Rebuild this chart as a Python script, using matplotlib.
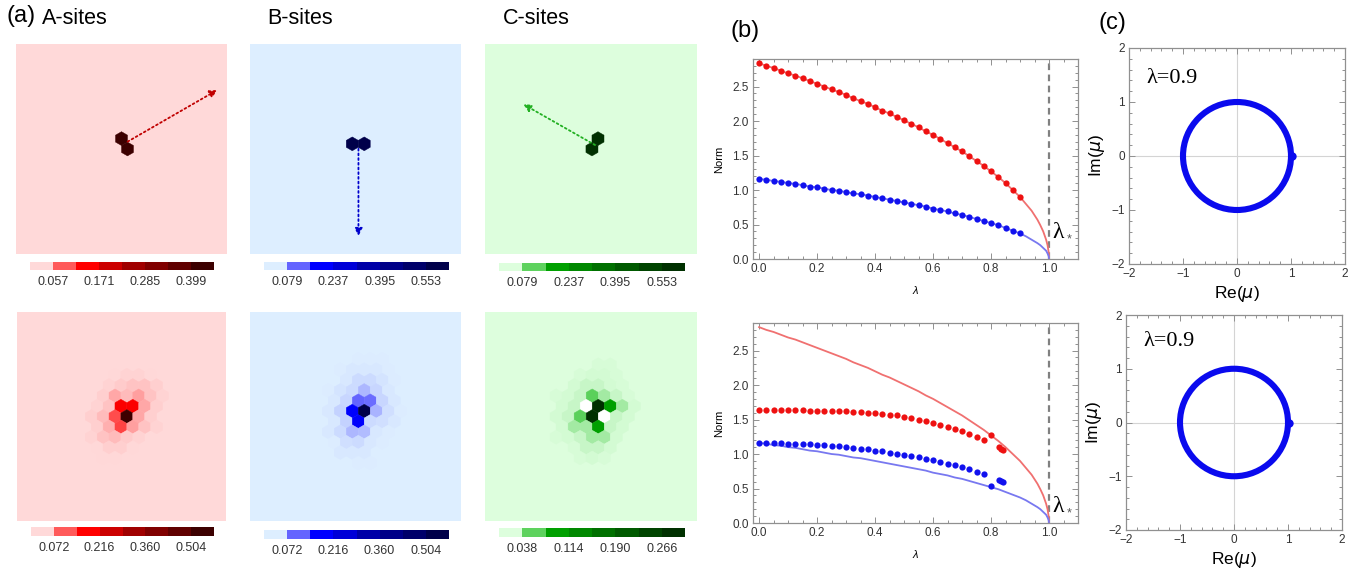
import numpy as np
import matplotlib
matplotlib.use("Agg")
import matplotlib.pyplot as plt
from matplotlib.patches import RegularPolygon, Circle
from matplotlib.collections import PatchCollection
from matplotlib.colors import LinearSegmentedColormap, ListedColormap, BoundaryNorm, Normalize
from matplotlib.cm import ScalarMappable
from matplotlib.ticker import MultipleLocator

plt.rcParams['font.family'] = ['Liberation Sans', 'DejaVu Sans']

# ---------------- data ----------------
# hex-lattice amplitudes, rows top->bottom, centre cell = [rows//2, cols//2]
a_top = [[0.44, 0, 0],
         [0, 0.44, 0],
         [0, 0, 0]]
b_top = [[0, 0, 0],
         [0, 0.62, 0.62],
         [0, 0, 0]]
c_top = [[0, 0.62, 0],
         [0, 0.62, 0],
         [0, 0, 0]]

a_bot = [[0, 0, 0, 0, 0, 0, 0, 0, 0],
         [0, 0, 0, 0.004, 0.005, 0.005, 0.004, 0, 0],
         [0, 0, 0.005, 0.01, 0.014, 0.014, 0.007, 0, 0],
         [0, 0, 0.007, 0.03, 0.018, 0.034, 0.014, 0.005, 0],
         [0, 0.005, 0.014, 0.15, 0.15, 0.03, 0.008, 0, 0],
         [0, 0.007, 0.018, 0.085, 0.55, 0.03, 0.008, 0, 0],
         [0, 0.007, 0.026, 0.09, 0.034, 0.014, 0.005, 0, 0],
         [0, 0.005, 0.014, 0.018, 0.01, 0.005, 0, 0, 0],
         [0, 0.004, 0.008, 0.008, 0.004, 0, 0, 0, 0],
         [0, 0, 0.004, 0.004, 0, 0, 0, 0, 0],
         [0, 0, 0, 0, 0, 0, 0, 0, 0]]

b_bot = [[0, 0, 0, 0.004, 0.004, 0.004, 0, 0, 0],
         [0, 0, 0.004, 0.006, 0.006, 0.005, 0.004, 0, 0],
         [0, 0, 0.006, 0.012, 0.012, 0.008, 0.004, 0, 0],
         [0, 0.004, 0.008, 0.012, 0.03, 0.014, 0.006, 0, 0],
         [0, 0.005, 0.014, 0.072, 0.068, 0.014, 0.006, 0, 0],
         [0, 0.006, 0.016, 0.15, 0.55, 0.032, 0.01, 0.004, 0],
         [0, 0.005, 0.016, 0.15, 0.012, 0.01, 0.005, 0, 0],
         [0, 0.005, 0.012, 0.03, 0.028, 0.006, 0.004, 0, 0],
         [0, 0.004, 0.01, 0.012, 0.006, 0.004, 0, 0, 0],
         [0, 0, 0.005, 0.005, 0.005, 0, 0, 0, 0],
         [0, 0, 0, 0.003, 0.003, 0, 0, 0, 0]]

c_bot = [[0, 0, 0, 0, 0.003, 0.003, 0, 0, 0],
         [0, 0, 0, 0.003, 0.004, 0.004, 0.003, 0, 0],
         [0, 0, 0.004, 0.008, 0.008, 0.004, 0.003, 0, 0],
         [0, 0.003, 0.004, 0.008, 0.04, 0.018, 0.008, 0.003, 0],
         [0, 0.004, 0.008, 0.0001, 0.29, 0.078, 0.018, 0.004, 0],
         [0, 0.004, 0.008, 0.04, 0.29, 0.0001, 0.008, 0.004, 0],
         [0, 0.004, 0.018, 0.018, 0.078, 0.008, 0.004, 0, 0],
         [0, 0.003, 0.004, 0.008, 0.018, 0.018, 0.004, 0, 0],
         [0, 0, 0.003, 0.008, 0.008, 0.004, 0, 0, 0],
         [0, 0, 0, 0.003, 0.004, 0.003, 0, 0, 0],
         [0, 0, 0, 0, 0, 0, 0, 0, 0]]

# colourbar tick labels
a_top_ticks = [0.057, 0.171, 0.285, 0.399]
b_top_ticks = [0.079, 0.237, 0.395, 0.553]
c_top_ticks = [0.079, 0.237, 0.395, 0.553]
a_bot_ticks = [0.072, 0.216, 0.360, 0.504]
b_bot_ticks = [0.072, 0.216, 0.360, 0.504]
c_bot_ticks = [0.038, 0.114, 0.190, 0.266]

red_cols = ['#ffd9d9', '#ff5a5a', '#ff0000', '#cc0000', '#a00000', '#800000', '#600000', '#3c0000']
blue_cols = ['#ddeeff', '#6464ff', '#0000ff', '#0000d8', '#0000a8', '#000088', '#00006a', '#00004a']
green_cols = ['#ddfedd', '#5ed25e', '#00a000', '#008800', '#007000', '#005a00', '#004400', '#003000']

# (b) norms vs lambda
lam_dots = np.linspace(0, 0.9, 37)
red_top = [2.84, 2.80, 2.77, 2.73, 2.69, 2.66, 2.62, 2.58, 2.54, 2.50, 2.46, 2.42, 2.38,
           2.33, 2.29, 2.25, 2.20, 2.15, 2.11, 2.06, 2.01, 1.96, 1.91, 1.85, 1.80, 1.74,
           1.68, 1.62, 1.56, 1.49, 1.42, 1.35, 1.27, 1.19, 1.10, 1.00, 0.90]
blue_top = [1.16, 1.15, 1.13, 1.12, 1.10, 1.09, 1.07, 1.05, 1.04, 1.02, 1.00, 0.99, 0.97,
            0.95, 0.94, 0.92, 0.90, 0.88, 0.86, 0.84, 0.82, 0.80, 0.78, 0.76, 0.73, 0.71,
            0.69, 0.66, 0.64, 0.61, 0.58, 0.55, 0.52, 0.49, 0.45, 0.41, 0.37]
lam_tail = [0.92, 0.94, 0.96, 0.97, 0.98, 0.99, 0.995, 0.999, 1.0]
red_tail = [0.80, 0.70, 0.57, 0.49, 0.40, 0.28, 0.20, 0.09, 0.0]
blue_tail = [0.33, 0.28, 0.23, 0.20, 0.16, 0.12, 0.08, 0.04, 0.0]

lam_bot = np.linspace(0, 0.775, 32)
red_bot = [1.64, 1.64, 1.64, 1.64, 1.64, 1.64, 1.64, 1.63, 1.63, 1.63, 1.63, 1.62, 1.62,
           1.61, 1.61, 1.60, 1.59, 1.58, 1.57, 1.56, 1.54, 1.52, 1.50, 1.48, 1.45, 1.42,
           1.39, 1.36, 1.33, 1.29, 1.25, 1.20]
blue_bot = [1.16, 1.16, 1.16, 1.155, 1.15, 1.15, 1.145, 1.14, 1.13, 1.125, 1.12, 1.11, 1.10,
            1.09, 1.08, 1.07, 1.05, 1.04, 1.02, 1.00, 0.985, 0.97, 0.95, 0.93, 0.91, 0.89,
            0.86, 0.84, 0.81, 0.78, 0.74, 0.71]
lam_extra = [0.8, 0.826, 0.834, 0.842]
red_extra = [1.27, 1.10, 1.08, 1.06]
blue_extra = [0.53, 0.62, 0.61, 0.59]
lam_star = 1.0

# (c) spectrum
ring_center = (0.0, 0.0)
ring_radius = 1.0
mode_re, mode_im = [1.02], [0.0]
lam_value = 'λ=0.9'

# ---------------- figure ----------------
W, H = 1367, 573
fig = plt.figure(figsize=(W / 100, H / 100), dpi=100)


def px_axes(x0, y0, x1, y1):
    return fig.add_axes([x0 / W, 1 - y1 / H, (x1 - x0) / W, (y1 - y0) / H])


def hex_panel(ax, vals, step, cols, view):
    vals = np.asarray(vals, float)
    nr, nc = vals.shape
    ci, cj = nr // 2, nc // 2
    vmax = 8 * step
    nodes = [0, 0.02 * step] + [k * step for k in range(1, 8)] + [vmax]
    ccols = ['white', cols[0]] + cols[1:] + [cols[-1]]
    cmap = LinearSegmentedColormap.from_list('hx', list(zip(np.array(nodes) / vmax, ccols)))
    patches, cv = [], []
    for i in range(nr):
        for j in range(nc):
            if vals[i, j] <= 0:
                continue
            x = (j - cj) + 0.5 * ((i - ci) % 2)
            y = -(i - ci) * np.sqrt(3) / 2
            patches.append(RegularPolygon((x, y), 6, radius=1 / np.sqrt(3)))
            cv.append(vals[i, j])
    pc = PatchCollection(patches, cmap=cmap, norm=Normalize(0, vmax))
    pc.set_array(np.array(cv))
    pc.set_edgecolor('face')
    pc.set_linewidth(0.3)
    ax.add_collection(pc)
    ax.set_facecolor(cols[0])
    vx, vy = view
    ax.set_xlim(vx - 8.8, vx + 8.8)
    ax.set_ylim(vy - 8.75, vy + 8.75)
    ax.set_xticks([])
    ax.set_yticks([])
    for s in ax.spines.values():
        s.set_visible(False)


def colour_bar(cax, ticks, cols):
    step = ticks[0]
    bounds = [k * step for k in range(9)]
    sm = ScalarMappable(norm=BoundaryNorm(bounds, 8), cmap=ListedColormap(cols))
    cb = fig.colorbar(sm, cax=cax, orientation='horizontal', ticks=bounds[1::2])
    cb.set_ticklabels([f'{t:.3f}' for t in ticks])
    cb.outline.set_visible(False)
    cax.minorticks_off()
    cax.tick_params(which='both', length=0, labelsize=9, labelcolor='#333333', pad=4)


panels = [
    (a_top, a_top_ticks, red_cols, (16, 44, 227, 254), (-0.5, 0.0), (30, 262, 214, 270)),
    (b_top, b_top_ticks, blue_cols, (250, 44, 461, 254), (0.27, -0.43), (264, 262, 449, 270)),
    (c_top, c_top_ticks, green_cols, (485, 44, 697, 254), (-0.08, 0.0), (499, 263, 685, 271)),
    (a_bot, a_bot_ticks, red_cols, (17, 312, 226, 521), (-0.45, 0.0), (31, 527, 214, 536)),
    (b_bot, b_bot_ticks, blue_cols, (250, 312, 461, 521), (-0.73, -0.45), (264, 530, 449, 539)),
    (c_bot, c_bot_ticks, green_cols, (485, 312, 697, 521), (-0.1, 0.0), (499, 528, 685, 537)),
]
hex_axes = []
for vals, ticks, cols, box, view, cbox in panels:
    ax = px_axes(*box)
    hex_panel(ax, vals, ticks[0], cols, view)
    colour_bar(px_axes(*cbox), ticks, cols)
    hex_axes.append(ax)

# dotted arrows on the top row
arrows = [((0.529, 0.535), (0.954, 0.781), '#c00000'),
          ((0.514, 0.501), (0.514, 0.086), '#0000cc'),
          ((0.519, 0.519), (0.181, 0.713), '#22b022')]
for ax, (start, tip, col) in zip(hex_axes[:3], arrows):
    ax.annotate('', xy=tip, xytext=start, xycoords='axes fraction',
                arrowprops=dict(arrowstyle='-|>', linestyle=(0, (1, 1.6)), color=col,
                                lw=1.3, mutation_scale=11, shrinkA=0, shrinkB=0))

fig.text(7 / W, 1 - 16 / H, '(a)', fontsize=17, va='center')
fig.text(42 / W, 1 - 19 / H, 'A-sites', fontsize=15.5, va='center')
fig.text(267 / W, 1 - 19 / H, 'B-sites', fontsize=15.5, va='center')
fig.text(503 / W, 1 - 19 / H, 'C-sites', fontsize=15.5, va='center')
fig.text(731 / W, 1 - 31 / H, '(b)', fontsize=17, va='center')
fig.text(1099 / W, 1 - 23 / H, '(c)', fontsize=17, va='center')

FRAME = '#909090'


def style_axes(ax, xmaj, xmin, ymaj, ymin):
    ax.xaxis.set_major_locator(MultipleLocator(xmaj))
    ax.xaxis.set_minor_locator(MultipleLocator(xmin))
    ax.yaxis.set_major_locator(MultipleLocator(ymaj))
    ax.yaxis.set_minor_locator(MultipleLocator(ymin))
    ax.tick_params(which='both', direction='in', top=True, right=True, color=FRAME,
                   labelsize=8.5, labelcolor='#333333', width=0.7, pad=3)
    ax.tick_params(which='major', length=4)
    ax.tick_params(which='minor', length=2)
    for s in ax.spines.values():
        s.set_color(FRAME)
        s.set_linewidth(0.9)


def norm_axes(box, star_y):
    ax = px_axes(*box)
    ax.plot(list(lam_dots) + lam_tail, red_top + red_tail, color='#f07070', lw=1.3, zorder=2)
    ax.plot(list(lam_dots) + lam_tail, blue_top + blue_tail, color='#7878f0', lw=1.3, zorder=2)
    ax.axvline(lam_star, color='#808080', ls=(0, (3, 2)), lw=1.6, zorder=1)
    ax.set_xlim(-0.021, 1.1)
    ax.set_ylim(0, 2.9)
    style_axes(ax, 0.2, 0.05, 0.5, 0.1)
    ax.set_ylabel('Norm', fontsize=8, labelpad=6)
    ax.set_xlabel('λ', fontsize=8, fontstyle='italic', labelpad=8)
    ax.text(lam_star + 0.012, star_y, 'λ', family=['Liberation Serif', 'DejaVu Serif'],
            fontsize=17, va='center')
    ax.text(lam_star + 0.062, star_y - 0.1, '*', fontsize=9, color='#555555', va='center')
    return ax


ax_bt = norm_axes((753, 59, 1078, 259), 0.38)
ax_bt.plot(lam_dots, red_top, 'o', color='#ee1111', ms=4.5, mec='none', zorder=3)
ax_bt.plot(lam_dots, blue_top, 'o', color='#1111ee', ms=4.5, mec='none', zorder=3)

ax_bb = norm_axes((753, 323, 1078, 523), 0.24)
ax_bb.plot(list(lam_bot) + lam_extra, red_bot + red_extra, 'o', color='#ee1111', ms=4.5,
           mec='none', zorder=3)
ax_bb.plot(list(lam_bot) + lam_extra, blue_bot + blue_extra, 'o', color='#1111ee', ms=4.5,
           mec='none', zorder=3)


def spectrum_axes(box, text_y):
    ax = px_axes(*box)
    ax.axhline(0, color='#d4d4d4', lw=0.8, zorder=1)
    ax.axvline(0, color='#d4d4d4', lw=0.8, zorder=1)
    ax.add_patch(Circle(ring_center, ring_radius, fill=False, ec='#0a0aee', lw=4.4, zorder=2))
    ax.plot(mode_re, mode_im, 'o', color='#0a0aee', ms=6, mec='none', zorder=3)
    ax.set_xlim(-2, 2)
    ax.set_ylim(-2, 2)
    style_axes(ax, 1, 0.2, 1, 0.2)
    ax.tick_params(labelsize=8.5)
    ax.set_xlabel('Re($\\mu$)', fontsize=12.5, labelpad=3)
    ax.set_ylabel('Im($\\mu$)', fontsize=12.5, labelpad=3)
    ax.text(-1.67, text_y, lam_value, family=['Liberation Serif', 'DejaVu Serif'],
            fontsize=16, va='center')
    return ax


spectrum_axes((1129, 48, 1345, 264), 1.44)
spectrum_axes((1126, 315, 1342, 530), 1.50)

fig.savefig('out.png', dpi=100)
